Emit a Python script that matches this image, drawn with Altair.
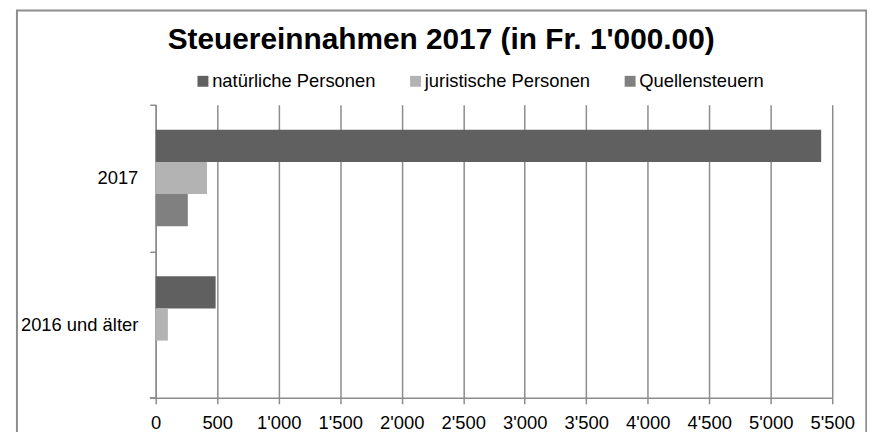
import altair as alt
import pandas as pd

TITLE = "Steuereinnahmen 2017 (in Fr. 1'000.00)"
categories = ["2017", "2016 und älter"]
series = ["natürliche Personen", "juristische Personen", "Quellensteuern"]
nat_values = [5410, 487]
jur_values = [417, 99]
quel_values = [261, 0]
x_ticks = [0, 500, 1000, 1500, 2000, 2500, 3000, 3500, 4000, 4500, 5000, 5500]
colors = ["#606060", "#b3b3b3", "#808080"]

rows = []
for i, cat in enumerate(categories):
    for s, vals in zip(series, [nat_values, jur_values, quel_values]):
        rows.append({"Kategorie": cat, "Serie": s, "Wert": vals[i]})
df = pd.DataFrame(rows)

FONT = "Liberation Sans"
GRAY = "#8c8c8c"
W, H = 681, 295
OX, OY = 156.7, 104  # page position of plot origin

bars = alt.Chart(df).mark_bar().encode(
    y=alt.Y("Kategorie:N", sort=categories,
            scale=alt.Scale(paddingInner=0, paddingOuter=0),
            axis=alt.Axis(title=None, tickBand="extent", labelFontSize=18.5, labelFont=FONT,
                          labelColor="black", labelPadding=12, tickSize=6, tickColor=GRAY,
                          domainColor=GRAY, domainWidth=1.5, tickWidth=1.5, grid=False)),
    yOffset=alt.YOffset("Serie:N", sort=series,
                        scale=alt.Scale(paddingInner=0, paddingOuter=0.78)),
    x=alt.X("Wert:Q", scale=alt.Scale(domain=[0, 5500], nice=False, zero=True),
            axis=alt.Axis(title=None, values=x_ticks, labelOverlap=False, labelFlush=False,
                          labelExpr="replace(format(datum.value, ','), ',', \"'\")",
                          labelFontSize=18.5, labelFont=FONT, labelColor="black",
                          labelPadding=10, tickSize=6, tickColor=GRAY, tickWidth=1.5,
                          domainColor=GRAY, domainWidth=1.5, grid=True, gridColor=GRAY,
                          gridWidth=1.5)),
    color=alt.Color("Serie:N", sort=series,
                    scale=alt.Scale(domain=series, range=colors),
                    legend=alt.Legend(orient="none", legendX=195 - OX, legendY=-33,
                                      direction="horizontal", title=None,
                                      symbolType="square", symbolSize=121,
                                      symbolStrokeWidth=0, labelFontSize=18.5,
                                      labelFont=FONT, labelColor="black",
                                      labelOffset=0, columnPadding=30, labelLimit=400)),
)

one = pd.DataFrame({"t": [TITLE]})

border = alt.Chart(one).mark_rect(fillOpacity=0, stroke=GRAY, strokeWidth=2).encode(
    x=alt.value(17 - OX), x2=alt.value(872 - OX),
    y=alt.value(9 - OY), y2=alt.value(460 - OY),
)

bottom_tick = alt.Chart(one).mark_rule(color=GRAY, strokeWidth=1.5).encode(
    x=alt.value(-6), x2=alt.value(0), y=alt.value(H),
)

title = alt.Chart(one).mark_text(font=FONT, fontSize=30, fontWeight="bold",
                                 align="center", baseline="alphabetic",
                                 color="black").encode(
    text="t:N", x=alt.value(444 - OX), y=alt.value(48 - OY),
)

chart = alt.layer(border, bars, bottom_tick, title).properties(
    width=W, height=H,
    autosize=alt.AutoSizeParams(type="none"),
    padding={"left": OX - 8, "top": OY - 8, "right": 35, "bottom": 33},
    background="white",
).configure_view(strokeWidth=0)

chart.save("out.html", embed_options={"renderer": "svg", "actions": False})
